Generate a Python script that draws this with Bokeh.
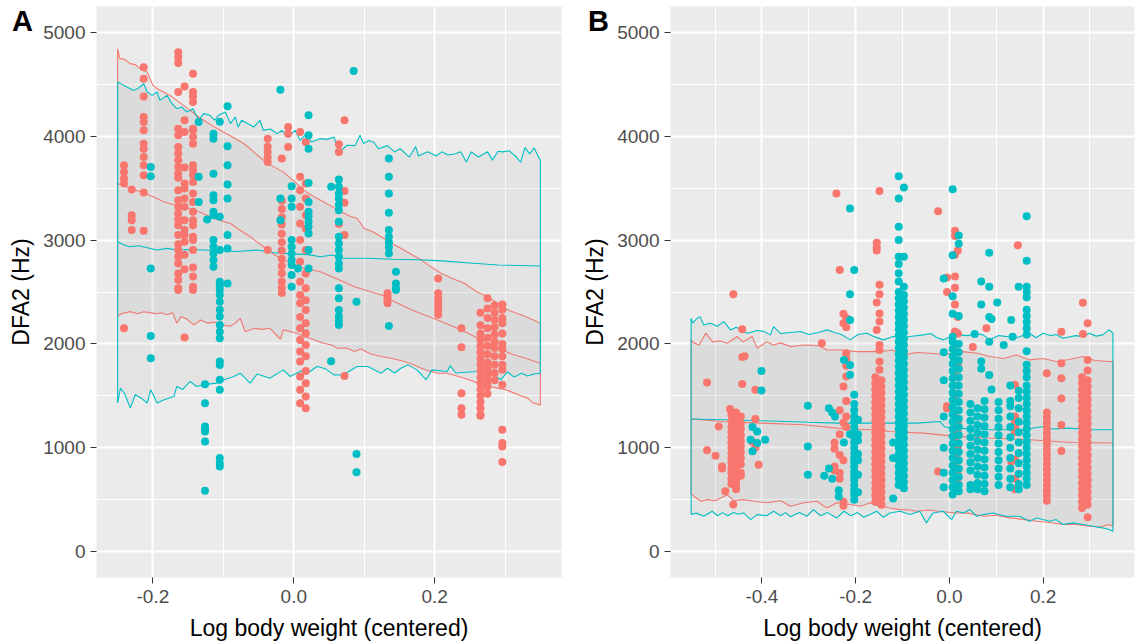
from bokeh.plotting import figure
from bokeh.models import FixedTicker, PrintfTickFormatter, Range1d, GridBox, Div
from bokeh.embed import file_html
from bokeh.resources import INLINE

RED = "#F8766D"
TEAL = "#00BFC4"
FONT = "Liberation Sans"

# ---------------- Panel A data ----------------
A_RED_X = [-0.241, -0.230, -0.213, -0.164, -0.155, -0.143, -0.037, -0.017, -0.008, 0.009, 0.017,
           0.064, 0.072, 0.133, 0.205, 0.238, 0.265, 0.275, 0.285, 0.296]
A_RED_Y = [
    [3721, 3657, 3593, 3545, 2150],
    [3487, 3240, 3192, 3096],
    [4666, 4554, 4384, 4185, 4137, 4057, 3929, 3881, 3801, 3721, 3625, 3458, 3089],
    [4810, 4762, 4705, 4426, 4073, 4009, 3897, 3833, 3769, 3705, 3641, 3600, 3481, 3384, 3320, 3256,
     3200, 3144, 3048, 2960, 2904, 2840, 2775, 2679, 2615, 2535, 2519],
    [4480, 4154, 4040, 3700, 3545, 3497, 3400, 3320, 3192, 3096, 3050, 2984, 2860, 2720, 2061],
    [4602, 4426, 4384, 4330, 4073, 4057, 3993, 3929, 3721, 3673, 3625, 3560, 3449, 3368, 3272, 3192,
     3144, 3032, 3000, 2904, 2737, 2650, 2551, 2519],
    [3977, 3900, 3849, 3801, 3753, 2904],
    [3785, 3380, 3300, 3220, 3150, 3060, 2980, 2900, 2820, 2750, 2680, 2600, 2540, 2490],
    [4089, 4025, 3897],
    [4041, 3609, 3481, 3320, 3160, 3000, 2791, 2599, 2471, 2391, 2260, 2150, 2038, 1926, 1830, 1686,
     1558, 1429],
    [3945, 3545, 3401, 3240, 3112, 2904, 2679, 2535, 2420, 2327, 2199, 2102, 1990, 1880, 1740, 1622,
     1494, 1381],
    [3923, 3849, 3154],
    [4154, 3474, 3359, 3048, 1692],
    [2487, 2455, 2420, 2391],
    [2631, 2487, 2440, 2400, 2360, 2320, 2280],
    [2150, 1968, 1525, 1381, 1317],
    [2300, 2180, 2100, 2040, 1980, 1920, 1860, 1800, 1740, 1680, 1620, 1560, 1500, 1440, 1380, 1317,
     1307],
    [2439, 2340, 2250, 2150, 2060, 1980, 1900, 1820, 1760, 1700, 1640, 1590, 1520],
    [2370, 2300, 2230, 2160, 2090, 2020, 1960, 1880, 1800, 1720, 1650],
    [2380, 2330, 2250, 2200, 2100, 2000, 1950, 1880, 1800, 1750, 1606, 1173, 1045, 1013, 862],
]

A_TEAL_X = [-0.203, -0.135, -0.123, -0.126, -0.114, -0.105, -0.094, -0.019, -0.003, 0.006, 0.021,
            0.053, 0.064, 0.085, 0.089, 0.135, 0.145]
A_TEAL_Y = [
    [3705, 3615, 2727, 2077, 1862],
    [4137, 3609, 3368],
    [3198],
    [1612, 1429, 1205, 1181, 1157, 1061, 586],
    [4025, 3977, 3640, 3433, 3384, 3272, 3240, 3000, 2936, 2872, 2808, 2743],
    [4140, 3224, 2904, 2599, 2583, 2551, 2519, 2470, 2407, 2330, 2263, 2183, 2118, 2054, 1830, 1798,
     1654, 1558, 901, 850, 820],
    [4288, 3903, 3721, 3535, 3401, 3048, 2920, 2583],
    [4448, 3401, 3192],
    [3519, 3401, 3320, 3000, 2936, 2872, 2808, 2760, 2663, 2551],
    [2727],
    [4202, 4009, 3881, 3551, 3368, 3272, 3230, 3176, 3128, 3064, 2904, 2727],
    [3513, 1833],
    [3583, 3513, 3449, 3400, 3340, 3288, 3176, 3032, 2968, 2904, 2840, 2775, 2727, 2535, 2439, 2327,
     2263, 2220, 2183],
    [4628],
    [2407, 939, 763],
    [3785, 3609, 3449, 3263, 3096, 3032, 2980, 2930, 2872, 2173],
    [2695, 2583, 2535, 2519],
]

# prediction bands, panel A
A_TEAL_UP_X = [-0.25, -0.244, -0.237, -0.227, -0.219, -0.213, -0.208, -0.201, -0.194, -0.19, -0.18,
               -0.173, -0.166, -0.159, -0.152, -0.143, -0.135, -0.128, -0.119, -0.112, -0.107,
               -0.097, -0.09, -0.083, -0.079, -0.074, -0.065, -0.057, -0.048, -0.043, -0.033,
               -0.024, -0.017, -0.008, 0.002, 0.009, 0.018, 0.025, 0.037, 0.048, 0.057, 0.064,
               0.076, 0.087, 0.094, 0.099, 0.107, 0.114, 0.12, 0.133, 0.143, 0.151, 0.164, 0.173,
               0.177, 0.19, 0.202, 0.21, 0.219, 0.228, 0.237, 0.245, 0.252, 0.262, 0.275, 0.282,
               0.29, 0.296, 0.306, 0.316, 0.322, 0.328, 0.335, 0.341, 0.346, 0.35]
A_TEAL_UP_Y = [4522, 4500, 4474, 4442, 4470, 4506, 4426, 4394, 4426, 4346, 4394, 4314, 4266, 4282,
               4234, 4266, 4154, 4218, 4202, 4154, 4202, 4234, 4122, 4186, 4089, 4154, 4120, 4089,
               4154, 4057, 4070, 4025, 4057, 3993, 4057, 3961, 4025, 3945, 3977, 3970, 3993, 3849,
               3913, 3910, 4010, 3930, 3960, 3940, 3880, 3910, 3850, 3880, 3800, 3900, 3810, 3850,
               3810, 3850, 3820, 3830, 3850, 3753, 3850, 3800, 3850, 3770, 3855, 3850, 3860, 3800,
               3750, 3890, 3830, 3890, 3820, 3770]
A_TEAL_MID_X = [-0.25, -0.24, -0.233, -0.22, -0.194, -0.18, -0.166, -0.15, -0.128, -0.1, -0.08,
                -0.052, -0.03, -0.015, 0.02, 0.038, 0.054, 0.07, 0.105, 0.14, 0.177, 0.21, 0.25,
                0.29, 0.32, 0.35]
A_TEAL_MID_Y = [2984, 2950, 2936, 2945, 2904, 2920, 2904, 2910, 2904, 2895, 2890, 2904, 2880, 2872,
                2860, 2840, 2856, 2825, 2825, 2815, 2810, 2800, 2780, 2760, 2755, 2750]
A_TEAL_LO_X = [-0.25, -0.246, -0.24, -0.232, -0.225, -0.217, -0.208, -0.203, -0.194, -0.185, -0.17,
               -0.166, -0.158, -0.147, -0.138, -0.125, -0.109, -0.097, -0.085, -0.076, -0.062,
               -0.052, -0.034, -0.015, -0.005, 0.01, 0.02, 0.033, 0.045, 0.057, 0.07, 0.09, 0.105,
               0.124, 0.133, 0.143, 0.152, 0.162, 0.175, 0.188, 0.196, 0.218, 0.222, 0.23, 0.261,
               0.275, 0.284, 0.294, 0.303, 0.313, 0.323, 0.332, 0.341, 0.35]
A_TEAL_LO_Y = [1430, 1574, 1520, 1381, 1510, 1480, 1430, 1558, 1430, 1460, 1494, 1590, 1560, 1638,
               1590, 1610, 1622, 1660, 1686, 1718, 1622, 1710, 1670, 1750, 1686, 1740, 1720, 1782,
               1760, 1702, 1700, 1782, 1782, 1718, 1766, 1720, 1766, 1798, 1750, 1654, 1750, 1734,
               1790, 1720, 1734, 1750, 1700, 1654, 1730, 1680, 1718, 1690, 1710, 1718]

A_RED_UP_X = [-0.25, -0.247, -0.24, -0.232, -0.225, -0.218, -0.208, -0.2, -0.192, -0.185, -0.175,
              -0.166, -0.157, -0.147, -0.138, -0.128, -0.115, -0.1, -0.085, -0.071, -0.057, -0.043,
              -0.03, -0.015, 0.0, 0.014, 0.028, 0.042, 0.055, 0.067, 0.08, 0.09, 0.1, 0.112, 0.124,
              0.136, 0.148, 0.165, 0.181, 0.195, 0.209, 0.225, 0.242, 0.26, 0.275, 0.29, 0.304,
              0.323, 0.337, 0.35]
A_RED_UP_Y = [4843, 4750, 4740, 4700, 4690, 4651, 4618, 4490, 4450, 4426, 4390, 4346, 4300, 4250,
              4200, 4154, 4100, 4042, 3985, 3930, 3850, 3769, 3710, 3657, 3570, 3481, 3420, 3369,
              3320, 3272, 3230, 3208, 3112, 3080, 3032, 2980, 2936, 2870, 2808, 2740, 2680, 2630,
              2584, 2500, 2455, 2390, 2327, 2279, 2240, 2199]
A_RED_MID_X = [-0.25, -0.232, -0.218, -0.2, -0.185, -0.165, -0.147, -0.13, -0.119, -0.105, -0.09,
               -0.075, -0.062, -0.043, -0.03, -0.015, 0.0, 0.014, 0.038, 0.054, 0.07, 0.086, 0.11,
               0.133, 0.138, 0.17, 0.204, 0.238, 0.26, 0.285, 0.31, 0.33, 0.35]
A_RED_MID_Y = [3545, 3497, 3465, 3420, 3369, 3330, 3305, 3260, 3225, 3190, 3160, 3090, 3032, 2936,
               2870, 2808, 2770, 2728, 2695, 2647, 2600, 2551, 2500, 2455, 2423, 2320, 2231, 2135,
               2060, 1974, 1900, 1860, 1814]
A_RED_LO_X = [-0.25, -0.245, -0.232, -0.222, -0.213, -0.205, -0.195, -0.188, -0.18, -0.172, -0.166,
              -0.16, -0.152, -0.142, -0.132, -0.122, -0.113, -0.104, -0.09, -0.083, -0.076, -0.069,
              -0.055, -0.045, -0.034, -0.019, -0.015, 0.004, 0.015, 0.023, 0.032, 0.042, 0.054,
              0.062, 0.075, 0.086, 0.095, 0.11, 0.124, 0.14, 0.157, 0.17, 0.181, 0.192, 0.204,
              0.215, 0.227, 0.242, 0.255, 0.266, 0.278, 0.29, 0.3, 0.313, 0.322, 0.332, 0.34, 0.35]
A_RED_LO_Y = [2263, 2290, 2311, 2290, 2310, 2301, 2290, 2300, 2280, 2301, 2199, 2263, 2240, 2183,
              2230, 2200, 2210, 2183, 2170, 2200, 2247, 2119, 2150, 2140, 2151, 2045, 2135, 2103,
              2070, 2055, 2030, 2007, 1990, 1958, 1960, 1926, 1950, 1900, 1878, 1860, 1830, 1800,
              1766, 1740, 1718, 1720, 1700, 1670, 1640, 1606, 1590, 1574, 1560, 1526, 1500, 1478,
              1430, 1413]

# ---------------- Panel B data ----------------
B_RED_X = [-0.517, -0.499, -0.492, -0.485, -0.478, -0.468, -0.465, -0.461, -0.455, -0.445, -0.442,
           -0.437, -0.421, -0.414, -0.407, -0.272, -0.241, -0.234, -0.226, -0.22, -0.245, -0.149,
           -0.155, -0.158, -0.145, -0.024, 0.012, 0.018, -0.005, 0.05, 0.079, 0.146, 0.14, 0.132,
           0.208, 0.239, 0.285, 0.283, 0.295]
B_RED_Y = [
    [1628, 975],
    [923],
    [1205],
    [820, 800],
    [580],
    [1372],
    [1320, 1260, 1200, 1150, 1100, 1050, 1000, 950, 900, 860, 800, 760, 700, 650],
    [2478, 452],
    [1340, 1290, 1240, 1190, 1140, 1090, 1040, 990, 940, 890, 840, 790, 740, 690, 640, 600],
    [1300, 1230, 1180, 1120, 1060, 1010, 960, 900, 840, 760, 730],
    [1615, 1875, 2141],
    [1880],
    [1061],
    [1558, 1276, 1000],
    [837],
    [2007],
    [3449],
    [2711, 1360, 1130, 930, 760, 700],
    [2290, 2200, 1590, 1240, 880, 480, 440],
    [2250, 2160, 1910, 1850, 1790, 1686, 1450, 1300, 1200],
    [1050, 990, 820, 780],
    [3474, 2570, 2478, 2292, 2215, 1990, 1942, 1830, 1750],
    [2975, 2930, 2900, 2400, 2135],
    [1680, 1620, 1560, 1500, 1440, 1380, 1320, 1260, 1200, 1140, 1080, 1020, 960, 900, 840, 780,
     720, 660, 600, 540, 480],
    [1650, 1590, 1530, 1470, 1410, 1350, 1290, 1230, 1170, 1110, 1050, 990, 930, 870, 810, 750,
     690, 630, 570, 510, 450],
    [3279, 770],
    [3090, 3040, 2860, 2650, 2540, 2380, 2120, 1990, 1850, 1700, 1480, 1300, 1200, 1080, 930, 820,
     600],
    [2900, 2260, 2100, 1800, 1600, 1250, 1150, 1000, 880, 780, 700],
    [2640, 2500, 1400, 1380],
    [1970],
    [2151],
    [2950],
    [1606, 1300, 1250, 1200, 1150, 890, 700, 600],
    [868],
    [1718, 1340, 1290, 1240, 1190, 1140, 1090, 1040, 990, 940, 890, 840, 790, 740, 690, 640, 590,
     540, 490],
    [2118, 1814, 1670, 1474, 1218, 968],
    [2397, 2096],
    [1680, 1620, 1560, 1500, 1440, 1380, 1320, 1260, 1200, 1140, 1080, 1020, 960, 900, 840, 780,
     720, 660, 600, 540, 480, 420],
    [2199, 1846, 1744, 1650, 1590, 1530, 1470, 1410, 1350, 1290, 1230, 1170, 1110, 1050, 990, 930,
     870, 810, 750, 690, 630, 570, 510, 450, 330],
]

B_TEAL_X = [-0.424, -0.41, -0.393, -0.42, -0.401, -0.302, -0.267, -0.257, -0.25, -0.244, -0.236,
            -0.225, -0.212, -0.203, -0.195, -0.12, -0.108, -0.097, 0.007, 0.02, -0.012, 0.054,
            0.068, 0.085, 0.09, 0.102, 0.116, 0.132, 0.135, 0.045, 0.06, 0.075, 0.105, 0.13,
            0.148, 0.165]
B_TEAL_Y = [
    [1077],
    [1157, 1045],
    [1077],
    [965, 1200],
    [1740, 1551],
    [1404, 1013, 740],
    [730],
    [1380, 800],
    [1340, 700],
    [1300],
    [590, 530],
    [1846, 1050],
    [3305, 2478, 2231, 1798, 1702, 1130],
    [2711, 1510, 1420, 1360, 1300, 1250, 1200, 1150, 1100, 1050, 1000, 950, 900, 860, 820, 770,
     730, 690, 640, 590, 550, 500],
    [1270, 1130, 1070, 940, 880, 740, 570],
    [1050, 900, 510],
    [3615, 3400, 3128, 3000, 2840, 2770, 2680, 2600, 2500, 2440, 2380, 2320, 2260, 2200, 2140,
     2080, 2020, 1960, 1900, 1840, 1780, 1720, 1660, 1600, 1540, 1480, 1420, 1360, 1300, 1240,
     1180, 1120, 1060, 1000, 940, 880, 820, 760, 700, 640],
    [3506, 2840, 2550, 2470, 2410, 2350, 2290, 2230, 2170, 2110, 2050, 1990, 1930, 1870, 1810,
     1750, 1690, 1630, 1570, 1510, 1450, 1390, 1330, 1270, 1210, 1150, 1090, 1030, 970, 910, 850,
     790, 730, 670, 610],
    [3490, 2855, 2460, 2290, 2070, 2020, 1950, 1880, 1810, 1740, 1670, 1600, 1530, 1460, 1390,
     1320, 1250, 1180, 1110, 1040, 970, 900, 830, 760, 690, 620, 550],
    [3045, 2965, 2270, 2000, 1920, 1840, 1760, 1680, 1600, 1520, 1440, 1360, 1280, 1200, 1120,
     1040, 960, 880, 800, 720, 640, 580],
    [2630, 1920, 1650, 1300, 1000, 760, 620],
    [2096],
    [2600, 2380, 1830, 1760],
    [2878, 2550, 2260, 2020, 1700],
    [2240, 1560],
    [2400],
    [1990],
    [2231],
    [2070],
    [1420, 1340, 1260, 1180, 1100, 1020, 940, 860, 780, 640, 600],
    [1380, 1300, 1220, 1140, 1060, 980, 900, 820, 740, 660, 600],
    [1450, 1370, 1290, 1210, 1130, 1050, 970, 890, 810, 730, 650, 580],
    [1440, 1360, 1280, 1200, 1120, 1040, 960, 880, 800, 720, 640],
    [1600, 1450, 1400, 1300, 1200, 1100, 1000, 900, 800, 700, 620],
    [2551, 1550, 1480, 1380, 1250, 1150, 1050, 950, 850, 750, 650, 600],
    [3230, 2800, 2550, 2500, 2450, 2330, 2270, 2210, 2150, 2090, 1930, 1800, 1740, 1680, 1600,
     1540, 1480, 1420, 1360, 1300, 1240, 1180, 1120, 1060, 1000, 940, 880, 820, 760, 700, 640],
]

B_TEAL_UP_X = [-0.551, -0.547, -0.54, -0.532, -0.524, -0.51, -0.495, -0.481, -0.467, -0.455,
               -0.431, -0.41, -0.395, -0.382, -0.375, -0.36, -0.34, -0.318, -0.3, -0.28, -0.261,
               -0.245, -0.23, -0.212, -0.195, -0.176, -0.16, -0.141, -0.12, -0.1, -0.084, -0.056,
               -0.04, -0.026, -0.013, 0.015, 0.04, 0.055, 0.072, 0.086, 0.105, 0.122, 0.143,
               0.171, 0.185, 0.2, 0.215, 0.228, 0.242, 0.27, 0.285, 0.299, 0.313, 0.327, 0.341,
               0.349]
B_TEAL_UP_Y = [2247, 2200, 2240, 2263, 2183, 2200, 2170, 2215, 2135, 2160, 2103, 2130, 2120, 2087,
               2167, 2100, 2110, 2119, 2090, 2110, 2135, 2110, 2090, 2039, 2090, 2103, 2070, 2039,
               2071, 2060, 2071, 2087, 2100, 2060, 2039, 2087, 2080, 2100, 2087, 2039, 2080, 2071,
               2060, 2103, 2060, 2103, 2080, 2090, 2055, 2080, 2070, 2103, 2075, 2087, 2135, 2103]
B_TEAL_MID_X = [-0.551, -0.481, -0.4, -0.346, -0.3, -0.24, -0.169, -0.127, -0.07, -0.02, -0.01,
                0.015, 0.086, 0.157, 0.2, 0.22, 0.256, 0.299, 0.349]
B_TEAL_MID_Y = [1276, 1269, 1260, 1253, 1245, 1237, 1237, 1237, 1237, 1253, 1200, 1189, 1173, 1173,
                1205, 1180, 1189, 1173, 1173]
B_TEAL_LO_X = [-0.551, -0.54, -0.524, -0.506, -0.495, -0.484, -0.473, -0.46, -0.452, -0.439,
               -0.424, -0.41, -0.39, -0.375, -0.36, -0.35, -0.339, -0.32, -0.304, -0.29, -0.275,
               -0.26, -0.24, -0.225, -0.21, -0.196, -0.183, -0.169, -0.155, -0.141, -0.127, -0.105,
               -0.084, -0.063, -0.049, -0.035, -0.013, 0.005, 0.015, 0.03, 0.044, 0.058, 0.072,
               0.093, 0.12, 0.15, 0.171, 0.186, 0.214, 0.228, 0.242, 0.263, 0.285, 0.306, 0.327,
               0.341, 0.349]
B_TEAL_LO_Y = [356, 370, 340, 388, 345, 375, 345, 375, 360, 372, 308, 356, 345, 388, 345, 375, 335,
               375, 340, 404, 345, 375, 324, 388, 345, 375, 330, 356, 388, 330, 372, 388, 356, 388,
               276, 372, 388, 308, 388, 372, 404, 340, 356, 372, 340, 340, 292, 324, 292, 308, 260,
               276, 260, 244, 228, 212, 196]

B_RED_UP_X = [-0.551, -0.545, -0.534, -0.52, -0.505, -0.49, -0.474, -0.453, -0.44, -0.421, -0.41,
              -0.39, -0.375, -0.36, -0.339, -0.31, -0.28, -0.261, -0.232, -0.197, -0.162, -0.14,
              -0.123, -0.098, -0.07, -0.041, -0.01, 0.029, 0.06, 0.086, 0.115, 0.143, 0.171, 0.2,
              0.228, 0.255, 0.285, 0.31, 0.341, 0.349]
B_RED_UP_Y = [2039, 2010, 1990, 2103, 2020, 2030, 2007, 2071, 2020, 2071, 1958, 2020, 1990, 2010,
              1974, 1990, 1985, 1942, 1942, 1926, 1926, 1930, 1942, 1894, 1917, 1910, 1900, 1926,
              1910, 1878, 1860, 1894, 1846, 1860, 1830, 1850, 1878, 1840, 1830, 1830]
B_RED_MID_X = [-0.551, -0.48, -0.4, -0.311, -0.24, -0.169, -0.127, -0.056, 0.015, 0.086, 0.171,
               0.263, 0.349]
B_RED_MID_Y = [1276, 1250, 1237, 1221, 1189, 1173, 1157, 1141, 1109, 1093, 1077, 1051, 1045]
B_RED_LO_X = [-0.551, -0.545, -0.53, -0.515, -0.5, -0.488, -0.474, -0.46, -0.44, -0.417, -0.39,
              -0.36, -0.339, -0.31, -0.283, -0.261, -0.24, -0.215, -0.19, -0.169, -0.148, -0.127,
              -0.105, -0.085, -0.07, -0.045, -0.02, 0.015, 0.04, 0.072, 0.1, 0.129, 0.157, 0.186,
              0.215, 0.242, 0.27, 0.299, 0.32, 0.341, 0.349]
B_RED_LO_Y = [560, 532, 484, 500, 490, 516, 548, 490, 500, 484, 470, 490, 436, 470, 484, 420, 470,
              455, 436, 468, 440, 420, 404, 400, 388, 400, 385, 372, 370, 340, 350, 324, 310, 292,
              280, 260, 262, 244, 236, 260, 244]

# ---------------- axes / ticks ----------------
Y_TICKS = [0, 1000, 2000, 3000, 4000, 5000]
Y_MINOR = [500, 1500, 2500, 3500, 4500]
A_X_TICKS = [-0.2, 0.0, 0.2]
A_X_MINOR = [-0.1, 0.1, 0.3]
B_X_TICKS = [-0.4, -0.2, 0.0, 0.2]
B_X_MINOR = [-0.5, -0.3, -0.1, 0.1, 0.3]
TAGS = ["A", "B"]


def expand(xs, ys):
    px, py = [], []
    for x, col in zip(xs, ys):
        px.extend([x] * len(col))
        py.extend(col)
    return px, py


def panel(xr, xticks, xminor, border_left, frame_w,
          red_pts, teal_pts, red_band, teal_band):
    p = figure(frame_width=frame_w, frame_height=571,
               width=border_left + frame_w + 5, height=644,
               x_range=Range1d(*xr), y_range=Range1d(-250, 5250),
               output_backend="svg", toolbar_location=None,
               min_border_left=border_left, min_border_right=5,
               min_border_top=6, min_border_bottom=67)
    p.background_fill_color = "#EBEBEB"
    p.border_fill_color = "white"
    p.outline_line_color = None

    p.xaxis.ticker = FixedTicker(ticks=xticks, minor_ticks=xminor)
    p.yaxis.ticker = FixedTicker(ticks=Y_TICKS, minor_ticks=Y_MINOR)
    p.xaxis.formatter = PrintfTickFormatter(format="%.1f")
    p.yaxis.formatter = PrintfTickFormatter(format="%d")
    for ax in (p.xaxis[0], p.yaxis[0]):
        ax.axis_line_color = None
        ax.major_tick_line_color = "#333333"
        ax.major_tick_out = 6
        ax.major_tick_in = 0
        ax.minor_tick_out = 0
        ax.minor_tick_in = 0
        ax.major_label_text_font = FONT
        ax.major_label_text_font_size = "19px"
        ax.major_label_text_color = "#4D4D4D"
        ax.axis_label_text_font = FONT
        ax.axis_label_text_font_size = "23px"
        ax.axis_label_text_font_style = "normal"
        ax.axis_label_text_color = "black"
        ax.major_label_standoff = 5
    p.xaxis.major_label_standoff = 6
    p.xaxis.axis_label = "Log body weight (centered)"
    p.yaxis.axis_label = "DFA2 (Hz)"
    p.xaxis.axis_label_standoff = 9
    p.yaxis.axis_label_standoff = 6

    for g in (p.xgrid[0], p.ygrid[0]):
        g.grid_line_color = "white"
        g.grid_line_width = 2
        g.minor_grid_line_color = "white"
        g.minor_grid_line_width = 1

    # bands: red first, teal on top
    for (ux, uy, mx, my, lx, ly), col in ((red_band, RED), (teal_band, TEAL)):
        xs = list(ux) + list(reversed(lx))
        ys = list(uy) + list(reversed(ly))
        p.patch(xs, ys, fill_color="#999999", fill_alpha=0.1,
                line_color=col, line_width=1.1)
        p.line(mx, my, line_color=col, line_width=1.1)

    rx, ry = expand(*red_pts)
    tx, ty = expand(*teal_pts)
    p.scatter(rx, ry, size=8, fill_color=RED, line_color=None)
    p.scatter(tx, ty, size=8, fill_color=TEAL, line_color=None)
    return p


def tag_div(text, left):
    html = ('<div style="font-family: \'Liberation Sans\', Arial, sans-serif; font-size: 29px; '
            'font-weight: bold; color: black; line-height: 29px; '
            f'margin: 2px 0 0 {left}px; white-space: nowrap;">{text}</div>')
    return Div(text=html, width=60, height=44, align="start")


pA = panel((-0.28, 0.38), A_X_TICKS, A_X_MINOR, 96, 465,
           (A_RED_X, A_RED_Y), (A_TEAL_X, A_TEAL_Y),
           (A_RED_UP_X, A_RED_UP_Y, A_RED_MID_X, A_RED_MID_Y, A_RED_LO_X, A_RED_LO_Y),
           (A_TEAL_UP_X, A_TEAL_UP_Y, A_TEAL_MID_X, A_TEAL_MID_Y, A_TEAL_LO_X, A_TEAL_LO_Y))
pB = panel((-0.595, 0.395), B_X_TICKS, B_X_MINOR, 104, 464,
           (B_RED_X, B_RED_Y), (B_TEAL_X, B_TEAL_Y),
           (B_RED_UP_X, B_RED_UP_Y, B_RED_MID_X, B_RED_MID_Y, B_RED_LO_X, B_RED_LO_Y),
           (B_TEAL_UP_X, B_TEAL_UP_Y, B_TEAL_MID_X, B_TEAL_MID_Y, B_TEAL_LO_X, B_TEAL_LO_Y))

layout = GridBox(children=[(pA, 0, 0), (pB, 0, 1),
                           (tag_div(TAGS[0], 7), 0, 0), (tag_div(TAGS[1], 17), 0, 1)],
                 spacing=0)
open("out.html", "w").write(file_html(layout, INLINE))
